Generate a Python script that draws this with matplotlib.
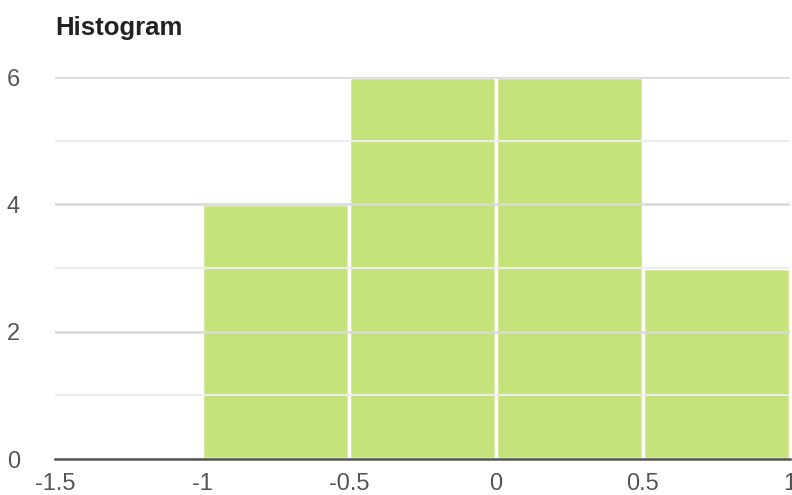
import matplotlib
matplotlib.use('Agg')
import matplotlib.pyplot as plt
from matplotlib.ticker import MultipleLocator

plt.rcParams['font.family'] = ['Liberation Sans', 'DejaVu Sans']

# datos del histograma
BIN_EDGES = [-1.0, -0.5, 0.0, 0.5, 1.0]
COUNTS = [4, 6, 6, 3]
X_TICKS = [-1.5, -1, -0.5, 0, 0.5, 1]
X_LABELS = ['-1.5', '-1', '-0.5', '0', '0.5', '1']
Y_TICKS = [0, 2, 4, 6]

BAR_COLOR = '#c5e37b'
TEXT_COLOR = '#555555'

fig = plt.figure(figsize=(7.92, 4.95), dpi=100)
ax = fig.add_axes([0.0694, 0.0727, 0.9280, 0.7717])

widths = [b - a for a, b in zip(BIN_EDGES[:-1], BIN_EDGES[1:])]
ax.bar(BIN_EDGES[:-1], COUNTS, width=widths, align='edge',
       color=BAR_COLOR, edgecolor='white', linewidth=2.5, zorder=2)

ax.set_xlim(-1.5, 1)
ax.set_ylim(0, 6)
ax.set_xticks(X_TICKS)
ax.set_xticklabels(X_LABELS)
ax.set_yticks(Y_TICKS)
ax.yaxis.set_minor_locator(MultipleLocator(1))

# rejilla encima de las barras
ax.grid(axis='y', which='major', color='#d9d9d9', linewidth=1.8, zorder=3)
ax.grid(axis='y', which='minor', color='#ececec', linewidth=1.5, zorder=3)
ax.set_axisbelow(False)

for s in ['top', 'right', 'left']:
    ax.spines[s].set_visible(False)
ax.spines['bottom'].set_color('#555555')
ax.spines['bottom'].set_linewidth(1.8)
ax.spines['bottom'].set_zorder(4)

ax.tick_params(axis='both', which='both', length=0, labelsize=17,
               labelcolor=TEXT_COLOR)
ax.tick_params(axis='y', pad=30)
ax.tick_params(axis='x', pad=10)
for lbl in ax.get_yticklabels():
    lbl.set_horizontalalignment('center')

fig.text(0.0694, 0.943, 'Histogram', fontsize=18.5, fontweight='bold',
         color='#222222', ha='left', va='center')

fig.savefig('out.png', dpi=100)
